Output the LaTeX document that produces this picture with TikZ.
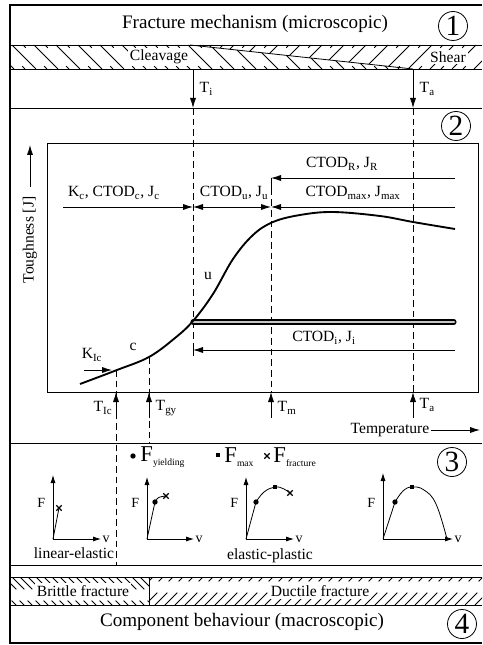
\documentclass[tikz,border=0pt]{standalone}
\usepackage{fontspec}
\setmainfont{Liberation Serif}
\usetikzlibrary{arrows.meta,shapes.misc}

\begin{document}
\begin{tikzpicture}[x=0.75pt, y=-0.75pt, line width=0.6pt,
  every node/.style={font=\fontsize{11.7}{13}\selectfont, inner sep=1pt},
  bigtext/.style={font=\fontsize{14.3}{16}\selectfont},
  secnum/.style={draw, circle, line width=0.6pt, minimum size=21.75pt, inner sep=0pt, font=\fontsize{22}{22}\selectfont},
  tip/.style={-{Latex[length=7.5pt,width=4.6pt]}},
  axtip/.style={-{Latex[length=6pt,width=3.8pt]}},
  guide/.style={dash pattern=on 5pt off 3pt},
  hshort/.style={dash pattern=on 3pt off 19.5pt on 3pt},
  bshort/.style={dash pattern=on 13pt off 12pt on 4.7pt},
  whitebg/.style={fill=white, inner sep=1.5pt},
  axlab/.style={font=\fontsize{10.5}{12}\selectfont},
  dotmk/.style={circle, fill, minimum size=4pt, inner sep=0pt},
  sqmk/.style={rectangle, fill, minimum size=3.4pt, inner sep=0pt},
  xmk/.style={cross out, draw, minimum size=3.2pt, inner sep=0pt, line width=0.9pt}
]
\useasboundingbox (0,0) rectangle (482,645);

% frame and section lines
\draw[line width=1.5pt] (482,5) -- (10,5) -- (10,643) -- (482,643);
\foreach \y in {45,69,108,443,565,577,605}
  \draw (10,\y) -- (482,\y);

%% section 1: fracture mechanism
\node[bigtext] (title) at (255,24) {Fracture mechanism (microscopic)};
\node[secnum] (numOne) at (453,26) {1};

% cleavage hatching
\begin{scope}
  \clip (10,45) -- (190,45) -- (413,69) -- (10,69) -- cycle;
  \foreach \x in {-10,12,...,420} \draw (\x,45) -- ++(24,24);
  \foreach \x in {1,23,...,420} \draw[hshort] (\x,45) -- ++(24,24);
\end{scope}
% shear hatching
\begin{scope}
  \clip (190,45) -- (482,45) -- (482,69) -- (413,69) -- cycle;
  \foreach \x in {166,188,...,500} \draw (\x,69) -- ++(24,-24);
  \foreach \x in {177,199,...,500} \draw[hshort] (\x,69) -- ++(24,-24);
\end{scope}
\coordinate (split0) at (190,45);
\coordinate (split1) at (413,69);
\draw (split0) -- (split1);
\node[whitebg] (cleav) at (159,57) {Cleavage};
\node[whitebg] (shear) at (448,57) {Shear};

\coordinate (Ti0) at (193,69);  \coordinate (Ti1) at (193,108);
\coordinate (Ta0) at (413,69);  \coordinate (Ta1) at (413,108);
\draw[tip] (Ti0) -- (Ti1);
\draw[tip] (Ta0) -- (Ta1);
\node[anchor=west] (labTi) at (198,89) {T\textsubscript{i}};
\node[anchor=west] (labTa) at (418,89) {T\textsubscript{a}};

%% section 2: toughness curve
\node[secnum] (numTwo) at (456,126) {2};
\draw (47,143) rectangle (478,392);

% guide lines
\draw[guide] (193,108) -- (193,352);
\draw[guide] (413,108) -- (413,392);
\draw[guide] (271,178) -- (271,392);
\draw[guide] (116,370) -- (116,565);
\draw[guide] (149,357) -- (149,443);
\draw (193,343) -- (193,356);
\draw (271,178) -- (271,192);

% toughness axis
\node[rotate=90] (toughLab) at (30,240) {Toughness [J]};
\coordinate (tA) at (30,187);
\coordinate (tB) at (30,145);
\draw[tip] (tA) -- (tB);

% range arrows
\coordinate (rL) at (63,207);
\coordinate (rM) at (193,207);
\coordinate (rN) at (271,207);
\coordinate (rR) at (455,207);
\draw[tip] (rL) -- (rM);
\draw[{Latex[length=7.5pt,width=4.6pt]}-{Latex[length=7.5pt,width=4.6pt]}] (rM) -- (rN);
\draw[tip] (rR) -- (rN);
\coordinate (rR0) at (455,178);
\coordinate (rR1) at (271,178);
\draw[tip] (rR0) -- (rR1);
\coordinate (rI0) at (455,350);
\coordinate (rI1) at (193,350);
\draw[tip] (rI0) -- (rI1);

\node (labKc) at (114,193) {K\textsubscript{c}, CTOD\textsubscript{c}, J\textsubscript{c}};
\node (labCu) at (234,193) {CTOD\textsubscript{u}, J\textsubscript{u}};
\node (labCmax) at (353,193) {CTOD\textsubscript{max}, J\textsubscript{max}};
\node (labCR) at (342,164) {CTOD\textsubscript{R}, J\textsubscript{R}};
\node (labCi) at (324,338) {CTOD\textsubscript{i}, J\textsubscript{i}};

% upper shelf bar
\coordinate (bar0) at (193,322);
\coordinate (bar1) at (454,322);
\draw[line width=3.8pt, line cap=round] (bar0) -- (bar1);
\draw[line width=2.2pt, line cap=round, gray!45] (bar0) -- (bar1);

% transition curve
\draw[line width=1.4pt] plot[smooth, tension=0.6] coordinates {(80,384) (117,370) (149,357)
  (175,338) (193,321) (213,294) (233,259) (253,235) (273,222) (300,215) (333,212)
  (380,216) (413,222) (455,229)};
\node (labu) at (208,276) {u};
\node (labc) at (133,347) {c};
\node (labKIc) at (92,355) {K\textsubscript{Ic}};
\coordinate (kA) at (84,370);
\coordinate (kB) at (112,370);
\draw[tip] (kA) -- (kB);

% temperature marks
\foreach \x/\n in {116/TIc,149/Tgy,271/Tm,413/Ta}{
  \coordinate (\n0) at (\x,418);
  \coordinate (\n1) at (\x,392);
  \draw[tip] (\n0) -- (\n1);
}
\node[anchor=east] (labTIc) at (114,408) {T\textsubscript{Ic}};
\node[anchor=west] (labTgy) at (154,408) {T\textsubscript{gy}};
\node[anchor=west] (labTm) at (276,408) {T\textsubscript{m}};
\node[anchor=west] (labTa2) at (418,405) {T\textsubscript{a}};
\node (tempLab) at (390,430) {Temperature};
\coordinate (tempEnd) at (480,430);
\draw[tip] (tempLab.east) -- (tempEnd);

%% section 3: load-displacement records
\node[secnum] (numThree) at (452,462) {3};
\node[dotmk] (legDot) at (133,456) {};
\node[anchor=west, inner sep=0pt] (legY) at (140,457) {\fontsize{17}{18}\selectfont F\raisebox{-3pt}{\fontsize{7.2}{8}\selectfont yielding}};
\node[sqmk] (legSq) at (218,455) {};
\node[anchor=west, inner sep=0pt] (legM) at (224,457) {\fontsize{17}{18}\selectfont F\raisebox{-3pt}{\fontsize{7.2}{8}\selectfont max}};
\node[xmk] (legX) at (267,456) {};
\node[anchor=west, inner sep=0pt] (legF) at (273,457) {\fontsize{17}{18}\selectfont F\raisebox{-3pt}{\fontsize{7.2}{8}\selectfont fracture}};

% graph 1
\coordinate (gAo) at (53,539); \coordinate (gAy) at (53,475); \coordinate (gAx) at (101,539);
\draw[axtip] (gAo) -- (gAy);
\draw[axtip] (gAo) -- (gAx);
\node[axlab, anchor=east] (gAF) at (47,503) {F};
\node[axlab, anchor=west] (gAv) at (gAx) {v};
\node[xmk] (gAfr) at (59,508) {};
\draw (gAo) -- (gAfr.center);

% graph 2
\coordinate (gBo) at (147,539); \coordinate (gBy) at (147,477); \coordinate (gBx) at (194,539);
\draw[axtip] (gBo) -- (gBy);
\draw[axtip] (gBo) -- (gBx);
\node[axlab, anchor=east] (gBF) at (141,503) {F};
\node[axlab, anchor=west] (gBv) at (gBx) {v};
\node[dotmk] (gBy0) at (155,502) {};
\node[xmk] (gBfr) at (166,496) {};
\draw (gBo) -- (gBy0.center) .. controls (158,497) .. (gBfr.center);

% graph 3
\coordinate (gCo) at (246,539); \coordinate (gCy) at (246,477); \coordinate (gCx) at (294,539);
\draw[axtip] (gCo) -- (gCy);
\draw[axtip] (gCo) -- (gCx);
\node[axlab, anchor=east] (gCF) at (240,503) {F};
\node[axlab, anchor=west] (gCv) at (gCx) {v};
\node[dotmk] (gCy0) at (256,502) {};
\node[sqmk] (gCm) at (275,487) {};
\node[xmk] (gCfr) at (290,493) {};
\draw (gCo) -- (gCy0.center);
\draw plot[smooth, tension=0.7] coordinates {(256,502) (264,492) (275,487) (284,489) (290,493)};

% graph 4
\coordinate (gDo) at (383,539); \coordinate (gDy) at (383,473); \coordinate (gDx) at (453,539);
\draw[axtip] (gDo) -- (gDy);
\draw[axtip] (gDo) -- (gDx);
\node[axlab, anchor=east] (gDF) at (377,503) {F};
\node[axlab, anchor=west] (gDv) at (gDx) {v};
\node[dotmk] (gDy0) at (395,502) {};
\node[sqmk] (gDm) at (412,487) {};
\draw (gDo) -- (gDy0.center);
\draw plot[smooth, tension=0.7] coordinates {(395,502) (403,491) (412,487) (424,490) (436,504) (447,539)};

\node (labLin) at (74,553) {linear-elastic};
\node (labEP) at (270,556) {elastic-plastic};

%% section 4: component behaviour
\begin{scope}
  \clip (10,577) rectangle (149,605);
  \foreach \x in {-20,-12,...,150} \draw[bshort] (\x,577) -- ++(28,28);
\end{scope}
\begin{scope}
  \clip (149,577) rectangle (482,605);
  \foreach \x in {125,135,...,490} \draw[bshort] (\x,605) -- ++(28,-28);
\end{scope}
\coordinate (bd0) at (149,577);
\coordinate (bd1) at (149,605);
\draw (bd0) -- (bd1);
\node[whitebg] (labBr) at (83,591) {Brittle fracture};
\node[whitebg] (labDu) at (320,591) {Ductile fracture};

\node[bigtext] (comp) at (242,622) {Component behaviour (macroscopic)};
\node[secnum] (numFour) at (462,624) {4};
\end{tikzpicture}
\end{document}
